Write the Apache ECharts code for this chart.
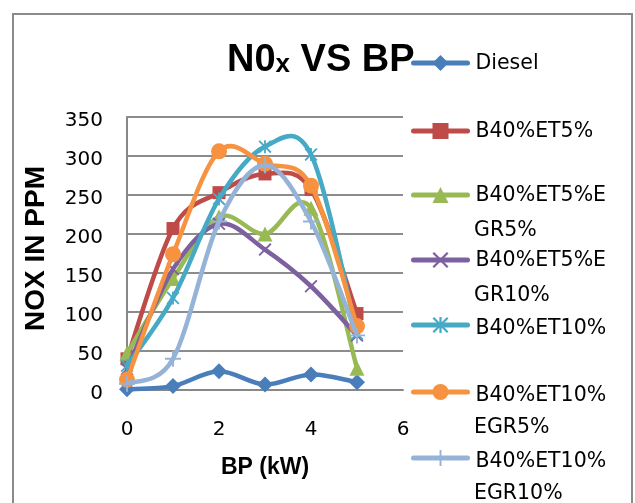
<!DOCTYPE html>
<html>
<head>
<meta charset="utf-8">
<script src="https://cdn.jsdelivr.net/npm/echarts@6/dist/echarts.min.js"></script>
<style>
  html, body { margin: 0; padding: 0; background: #fff; }
  #chart { width: 635px; height: 503px; }
</style>
</head>
<body>
<div id="chart"></div>
<script>
// Brake power (kW) on the x axis
const bp = [0, 1, 2, 3, 4, 5];

// NOx emission (ppm) for each fuel blend
const diesel       = [1, 5, 24, 7, 20, 10];
const b40et5       = [40, 207, 253, 277, 257, 98];
const b40et5egr5   = [47, 143, 222, 200, 233, 28];
const b40et5egr10  = [27, 155, 213, 180, 133, 70];
const b40et10      = [31, 118, 245, 312, 302, 72];
const b40et10egr5  = [13, 174, 306, 290, 262, 82];
const b40et10egr10 = [8, 40, 216, 288, 216, 70];

const seriesNames = ['Diesel', 'B40%ET5%', 'B40%ET5%EGR5%', 'B40%ET5%EGR10%',
                     'B40%ET10%', 'B40%ET10%EGR5%', 'B40%ET10%EGR10%'];
// legend text, split where the legend column wraps
const legendFirstLines  = ['Diesel', 'B40%ET5%', 'B40%ET5%E', 'B40%ET5%E', 'B40%ET10%', 'B40%ET10%', 'B40%ET10%'];
const legendSecondLines = ['', '', 'GR5%', 'GR10%', '', 'EGR5%', 'EGR10%'];
const seriesValues = [diesel, b40et5, b40et5egr5, b40et5egr10, b40et10, b40et10egr5, b40et10egr10];

// y-axis ticks
const yMin = 0, yMax = 350, yStep = 50;
// x-axis ticks
const xMin = 0, xMax = 6, xStep = 2;

const colors = ['#4A7EBB', '#BE4B48', '#98B954', '#7D60A0', '#46AAC5', '#F69240', '#95B3D7'];

// marker shapes (thin filled outlines for the cross, asterisk and plus)
const crossPath = 'path://M0,1 L1,0 L10,9 L9,10 Z M9,0 L10,1 L1,10 L0,9 Z';
const starPath = 'path://M0,1 L1,0 L10,9 L9,10 Z M9,0 L10,1 L1,10 L0,9 Z M4.3,0 L5.7,0 L5.7,10 L4.3,10 Z';
const plusPath = 'path://M4.4,0 L5.6,0 L5.6,10 L4.4,10 Z M0,4.4 L10,4.4 L10,5.6 L0,5.6 Z';
const symbols = ['diamond', 'rect', 'triangle', crossPath, starPath, 'circle', plusPath];
const symbolSizes = [[16, 16], 13, 15, 13, 13, 16, 16];

const legendCentersY = [63, 131, 195, 260, 325, 392, 458];
const LEGEND_ITEM_H = 20;
const LEGEND_TEXT_LH = 24;

const chart = echarts.init(document.getElementById('chart'), null, { renderer: 'canvas' });

// Smoothed curve through the points of one series: a cubic Bezier per segment,
// control points taken from the neighbouring points (cardinal spline).
function curveRenderer(color) {
  return function (params, api) {
    const i = params.dataIndexInside;
    const n = params.dataInsideLength;
    if (i >= n - 1) return null;
    const pt = k => api.coord([api.value(0, k), api.value(1, k)]);
    const p0 = pt(Math.max(i - 1, 0));
    const p1 = pt(i);
    const p2 = pt(i + 1);
    const p3 = pt(Math.min(i + 2, n - 1));
    const t = 1 / 6;
    return {
      type: 'bezierCurve',
      shape: {
        x1: p1[0], y1: p1[1],
        x2: p2[0], y2: p2[1],
        cpx1: p1[0] + (p2[0] - p0[0]) * t, cpy1: p1[1] + (p2[1] - p0[1]) * t,
        cpx2: p2[0] - (p3[0] - p1[0]) * t, cpy2: p2[1] - (p3[1] - p1[1]) * t
      },
      style: { stroke: color, fill: null, lineWidth: 4.5, lineCap: 'round', lineJoin: 'round' },
      silent: true
    };
  };
}

const series = [];
seriesNames.forEach((name, i) => {
  const pts = bp.map((x, j) => [x, seriesValues[i][j]]);
  series.push({
    name: name + ' curve',
    type: 'custom',
    data: pts,
    encode: { x: 0, y: 1 },
    renderItem: curveRenderer(colors[i]),
    z: 2 + i * 2,
    clip: false,
    animation: false
  });
  series.push({
    name: name,
    type: 'line',
    data: pts,
    symbol: symbols[i],
    symbolSize: symbolSizes[i],
    showSymbol: true,
    color: colors[i],
    lineStyle: { width: 4.5, opacity: 0, color: colors[i] },
    itemStyle: { color: colors[i], borderWidth: 0 },
    emphasis: { disabled: true },
    z: 3 + i * 2,
    animation: false
  });
});

const legends = seriesNames.map((name, i) => ({
  data: [name],
  orient: 'vertical',
  left: 411,
  top: legendCentersY[i] - LEGEND_ITEM_H / 2 - (LEGEND_TEXT_LH - LEGEND_ITEM_H) / 2,
  padding: 0,
  itemWidth: 54,
  itemHeight: LEGEND_ITEM_H,
  z: 50,
  selectedMode: false,
  formatter: () => '{t|' + legendFirstLines[i] + '}',
  lineStyle: { width: 5, opacity: 1, cap: 'round' },
  textStyle: {
    fontFamily: 'DejaVu Sans',
    fontSize: 20.5,
    color: '#000',
    lineHeight: LEGEND_TEXT_LH,
    rich: {
      t: { fontFamily: 'DejaVu Sans', fontSize: 20.5, color: '#000', padding: [i >= 4 ? 8 : 2, 0, 0, 3] }
    }
  }
}));

const secondLineTexts = [];
legendSecondLines.forEach((txt, i) => {
  if (!txt) return;
  secondLineTexts.push({
    type: 'text',
    left: 474,
    top: legendCentersY[i] + 36 - LEGEND_TEXT_LH / 2,
    z: 50,
    silent: true,
    style: {
      text: txt,
      fontFamily: 'DejaVu Sans',
      fontSize: 20.5,
      lineHeight: LEGEND_TEXT_LH,
      fill: '#000'
    }
  });
});

chart.setOption({
  backgroundColor: '#fff',
  animation: false,
  title: {
    text: '{a|N0}{b|x}{a| VS BP}',
    left: 227,
    top: 42,
    padding: 0,
    z: 1,
    textStyle: {
      rich: {
        a: { fontFamily: 'Liberation Sans', fontWeight: 'bold', fontSize: 38, color: '#000' },
        b: { fontFamily: 'Liberation Sans', fontWeight: 'bold', fontSize: 26, color: '#000', padding: [7, 0, 0, 0] }
      }
    }
  },
  legend: legends,
  grid: { left: 127, top: 117, right: 232, bottom: 113, containLabel: false },
  xAxis: {
    type: 'value',
    min: xMin, max: xMax, interval: xStep,
    name: 'BP (kW)',
    nameLocation: 'middle',
    nameGap: 66,
    nameTextStyle: { fontFamily: 'Liberation Sans', fontWeight: 'bold', fontSize: 23, color: '#000' },
    axisLine: { show: true, onZero: false, lineStyle: { color: '#888', width: 2 } },
    axisTick: { show: false },
    splitLine: { show: false },
    axisLabel: { fontFamily: 'DejaVu Sans', fontSize: 20, color: '#000', margin: 30 }
  },
  yAxis: {
    type: 'value',
    min: yMin, max: yMax, interval: yStep,
    name: 'NOX IN PPM',
    nameLocation: 'middle',
    nameGap: 77,
    nameTextStyle: { fontFamily: 'Liberation Sans', fontWeight: 'bold', fontSize: 28, color: '#000', padding: [0, 0, 0, 10] },
    axisLine: { show: true, lineStyle: { color: '#888', width: 2 } },
    axisTick: { show: false },
    splitLine: { show: true, lineStyle: { color: '#8c8c8c', width: 2 } },
    axisLabel: {
      fontFamily: 'DejaVu Sans', fontSize: 20, color: '#000', margin: 24,
      formatter: v => '{v|' + v + '}',
      rich: { v: { fontFamily: 'DejaVu Sans', fontSize: 20, color: '#000', padding: [8, 0, 0, 0] } }
    }
  },
  graphic: [{
    type: 'rect',
    shape: { x: 13, y: 14, width: 619, height: 500 },
    style: { fill: 'none', stroke: '#8a8a8a', lineWidth: 2 },
    silent: true,
    z: -10
  }].concat(secondLineTexts),
  series: series
});
</script>
</body>
</html>
